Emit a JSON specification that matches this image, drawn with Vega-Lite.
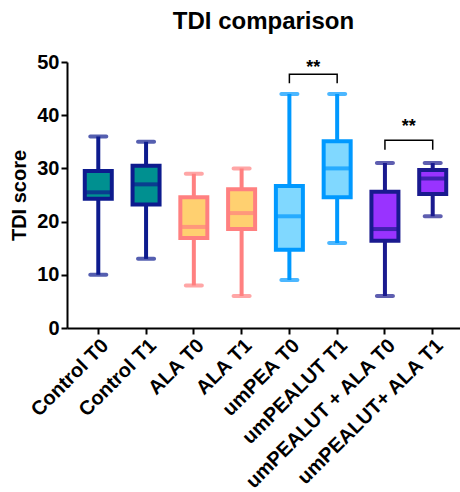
{
  "$schema": "https://vega.github.io/schema/vega-lite/v6.json",
  "autosize": {"type": "none"},
  "padding": {"left": 67, "top": 62, "right": 0, "bottom": 164},
  "width": 393,
  "height": 266,
  "title": {"text": "TDI comparison", "fontSize": 24, "fontWeight": "bold", "font": "Liberation Sans", "anchor": "middle", "color": "black", "offset": 18},
  "config": {"view": {"stroke": null}, "font": "Liberation Sans"},
  "data": {"values": [
    {"cat": "Control T0", "grp": "Control", "min": 10, "q1": 24.3, "med": 25.5, "q3": 29.5, "max": 36},
    {"cat": "Control T1", "grp": "Control", "min": 13, "q1": 23.2, "med": 27, "q3": 30.5, "max": 35},
    {"cat": "ALA T0", "grp": "ALA", "min": 8, "q1": 16.9, "med": 19, "q3": 24.6, "max": 29},
    {"cat": "ALA T1", "grp": "ALA", "min": 6, "q1": 18.6, "med": 21.6, "q3": 26.1, "max": 30},
    {"cat": "umPEA T0", "grp": "umPEA", "min": 9, "q1": 14.7, "med": 21, "q3": 26.7, "max": 44},
    {"cat": "umPEALUT T1", "grp": "umPEA", "min": 16, "q1": 24.6, "med": 30, "q3": 35.1, "max": 44},
    {"cat": "umPEALUT + ALA T0", "grp": "Combo", "min": 6, "q1": 16.4, "med": 18.6, "q3": 25.6, "max": 31},
    {"cat": "umPEALUT+ ALA T1", "grp": "Combo", "min": 21, "q1": 25.2, "med": 28.1, "q3": 29.7, "max": 31}
  ]},
  "encoding": {
    "x": {
      "field": "cat", "type": "nominal", "sort": null,
      "scale": {
        "domain": ["Control T0", "Control T1", "ALA T0", "ALA T1", "umPEA T0", "umPEALUT T1", "umPEALUT + ALA T0", "umPEALUT+ ALA T1"],
        "paddingInner": 0, "paddingOuter": 0.113, "align": 0.685
      },
      "axis": {"title": null, "labelAngle": -45, "labelFontSize": 20, "labelFontWeight": "bold", "labelColor": "black", "domainColor": "black", "domainWidth": 2, "tickColor": "black", "tickWidth": 2, "tickSize": 6, "labelPadding": 1, "labelLimit": 300}
    }
  },
  "layer": [
    {
      "mark": {"type": "rule", "strokeWidth": 4},
      "encoding": {
        "y": {"field": "min", "type": "quantitative", "scale": {"domain": [0, 50], "nice": false},
          "axis": {"values": [0, 10, 20, 30, 40, 50], "title": "TDI score", "titleFontSize": 20, "titleFontWeight": "bold", "titleColor": "black", "titlePadding": 7, "labelFontSize": 20, "labelFontWeight": "bold", "labelColor": "black", "grid": false, "domainColor": "black", "domainWidth": 2, "tickColor": "black", "tickWidth": 2, "tickSize": 6, "labelPadding": 2}},
        "y2": {"field": "max"},
        "stroke": {"field": "grp", "type": "nominal", "legend": null,
          "scale": {"domain": ["Control", "ALA", "umPEA", "Combo"], "range": ["#0D1B8E", "#FF8080", "#0099FF", "#1A1A8F"]}}
      }
    },
    {
      "mark": {"type": "tick", "thickness": 4, "size": 20, "cornerRadius": 2},
      "encoding": {
        "y": {"field": "min", "type": "quantitative"},
        "color": {"field": "grp", "type": "nominal", "legend": null,
          "scale": {"domain": ["Control", "ALA", "umPEA", "Combo"], "range": ["#0D1B8E", "#FF8080", "#0099FF", "#1A1A8F"]}}
      }
    },
    {
      "mark": {"type": "tick", "thickness": 4, "size": 20, "cornerRadius": 2},
      "encoding": {
        "y": {"field": "max", "type": "quantitative"},
        "color": {"field": "grp", "type": "nominal", "legend": null}
      }
    },
    {
      "mark": {"type": "bar", "width": 27, "strokeWidth": 4},
      "encoding": {
        "y": {"field": "q1", "type": "quantitative"},
        "y2": {"field": "q3"},
        "fill": {"field": "grp", "type": "nominal", "legend": null,
          "scale": {"domain": ["Control", "ALA", "umPEA", "Combo"], "range": ["#009090", "#FFD070", "#80D8FF", "#9933FF"]}},
        "stroke": {"field": "grp", "type": "nominal", "legend": null}
      }
    },
    {
      "mark": {"type": "tick", "thickness": 4, "size": 27},
      "encoding": {
        "y": {"field": "med", "type": "quantitative"},
        "color": {"field": "grp", "type": "nominal", "legend": null}
      }
    },
    {
      "data": {"values": [
        {"br": 1, "ord": 1, "cat": "umPEA T0", "v": 46},
        {"br": 1, "ord": 2, "cat": "umPEA T0", "v": 47.7},
        {"br": 1, "ord": 3, "cat": "umPEALUT T1", "v": 47.7},
        {"br": 1, "ord": 4, "cat": "umPEALUT T1", "v": 46},
        {"br": 2, "ord": 1, "cat": "umPEALUT + ALA T0", "v": 33.5},
        {"br": 2, "ord": 2, "cat": "umPEALUT + ALA T0", "v": 35.3},
        {"br": 2, "ord": 3, "cat": "umPEALUT+ ALA T1", "v": 35.3},
        {"br": 2, "ord": 4, "cat": "umPEALUT+ ALA T1", "v": 33.5}
      ]},
      "mark": {"type": "line", "color": "black", "strokeWidth": 1.5},
      "encoding": {
        "y": {"field": "v", "type": "quantitative"},
        "detail": {"field": "br", "type": "nominal"},
        "order": {"field": "ord", "type": "quantitative"}
      }
    },
    {
      "data": {"values": [
        {"cat": "umPEA T0", "sy": 48.9, "lab": "**"},
        {"cat": "umPEALUT + ALA T0", "sy": 37.8, "lab": "**"}
      ]},
      "mark": {"type": "text", "fontSize": 18, "fontWeight": "bold", "color": "black", "baseline": "middle", "align": "center"},
      "encoding": {
        "x": {"field": "cat", "type": "nominal", "bandPosition": 1},
        "y": {"field": "sy", "type": "quantitative"},
        "text": {"field": "lab"}
      }
    }
  ]
}
